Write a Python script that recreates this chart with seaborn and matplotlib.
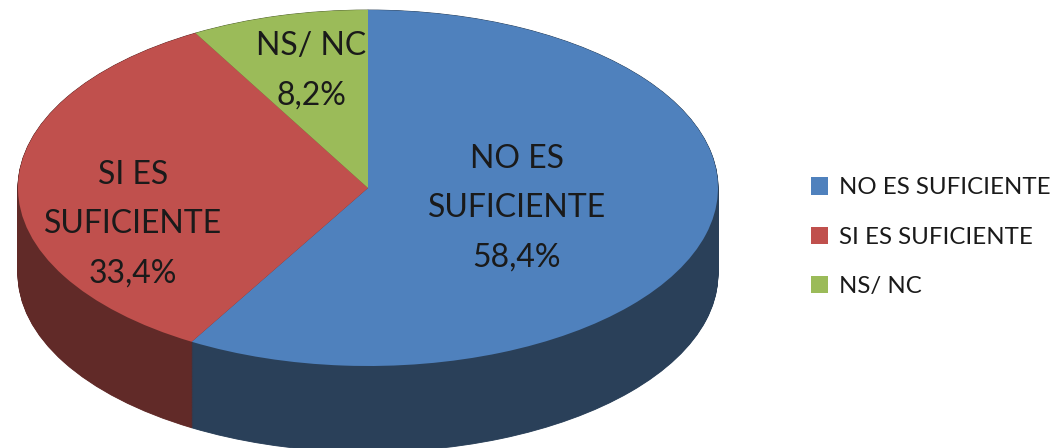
import numpy as np
import matplotlib
matplotlib.use("Agg")
import matplotlib.pyplot as plt
import seaborn as sns

categories = ["NO ES SUFICIENTE", "SI ES SUFICIENTE", "NS/ NC"]
values = [58.4, 33.4, 8.2]
slice_labels = ["NO ES\nSUFICIENTE\n58,4%", "SI ES\nSUFICIENTE\n33,4%", "NS/ NC\n8,2%"]
top_colors = ["#4F81BD", "#C0504D", "#9BBB59"]
side_colors = ["#2A4059", "#612A28", "#4E5E2D"]

sns.set_theme(style="white")
plt.rcParams["font.family"] = ["Lato", "DejaVu Sans"]

W, H = 1056, 448
fig = plt.figure(figsize=(W / 100, H / 100), dpi=100)
ax = fig.add_axes([0, 0, 1, 1])

cx, cy, rx, ry, depth = 368, 188, 350, 178, 86
depth_units = depth / ry

for d in np.linspace(depth_units, 0, 120):
    side, _ = ax.pie(values, colors=side_colors, startangle=90, counterclock=False,
                     center=(0, -d), radius=1, frame=False,
                     wedgeprops={"linewidth": 0})
    for w, c in zip(side, side_colors):
        w.set_edgecolor(c)
        w.set_linewidth(0.6)
wedges, _ = ax.pie(values, colors=top_colors, startangle=90, counterclock=False,
                   center=(0, 0), radius=1, frame=False,
                   wedgeprops={"linewidth": 0})

ax.set_aspect("auto")
ax.set_xlim(-cx / rx, (W - cx) / rx)
ax.set_ylim(-(H - cy) / ry, cy / ry)
ax.axis("off")

def place(px, py, s):
    ax.text((px - cx) / rx, (cy - py) / ry, s, ha="center", va="center",
            fontsize=23, color="#1a1a1a", linespacing=1.8)

place(517, 208, slice_labels[0])
place(133, 224, slice_labels[1])
place(311, 71, slice_labels[2])

leg = fig.legend(wedges, categories, loc="center left",
                 bbox_to_anchor=(811 / W, 1 - 237 / H), frameon=False,
                 fontsize=17.3, handlelength=0.72, handleheight=0.72,
                 handletextpad=0.45, labelspacing=1.17, borderpad=0, borderaxespad=0,
                 labelcolor="#1a1a1a")

fig.savefig("out.png", dpi=100)
